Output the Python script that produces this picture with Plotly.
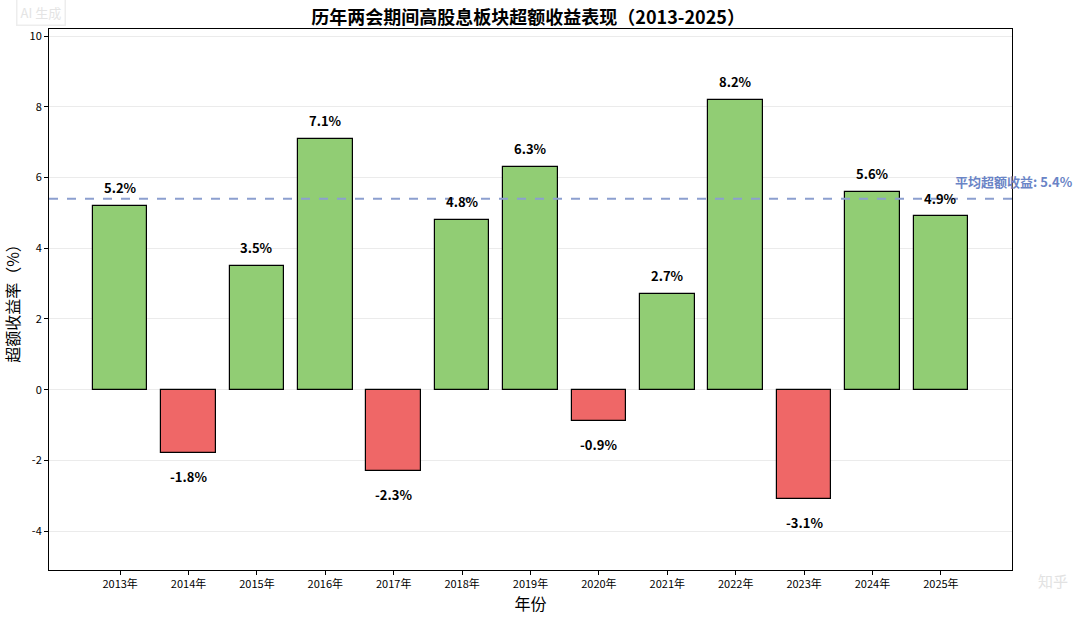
import plotly.graph_objects as go

years = ["2013年", "2014年", "2015年", "2016年", "2017年", "2018年", "2019年",
         "2020年", "2021年", "2022年", "2023年", "2024年", "2025年"]
excess = [5.2, -1.8, 3.5, 7.1, -2.3, 4.8, 6.3, -0.9, 2.7, 8.2, -3.1, 5.6, 4.9]
avg_value = 5.4
y_ticks = [-4, -2, 0, 2, 4, 6, 8, 10]
y_tick_text = ["-4", "-2", "0", "2", "4", "6", "8", "10"]

GREEN = "#91CD74"
RED = "#EF6767"
FONT = "Noto Sans CJK SC"

idx = list(range(len(years)))
colors = [GREEN if v >= 0 else RED for v in excess]

fig = go.Figure()
fig.add_trace(go.Bar(
    x=idx, y=excess, width=0.8,
    marker=dict(color=colors, line=dict(color="black", width=1.2)),
    hoverinfo="skip",
))

# average line
fig.add_shape(type="line", xref="paper", yref="y", x0=0, x1=1,
              y0=avg_value, y1=avg_value,
              line=dict(color="#8C9FCF", width=2, dash="dash"), layer="above")
fig.add_annotation(x=12.18, y=avg_value + 0.15, xref="x", yref="y",
                   text="<b>平均超额收益: %.1f%%</b>" % avg_value, showarrow=False,
                   xanchor="left", yanchor="bottom",
                   font=dict(family=FONT, size=13, color="#6A84C6"))

# value labels
for i, v in zip(idx, excess):
    label = "<b>%.1f%%</b>" % v
    if v >= 0:
        fig.add_annotation(x=i, y=v + 0.19, text=label, showarrow=False,
                           yanchor="bottom", xanchor="center",
                           font=dict(family=FONT, size=13, color="black"))
    else:
        fig.add_annotation(x=i, y=v - 0.33, text=label, showarrow=False,
                           yanchor="top", xanchor="center",
                           font=dict(family=FONT, size=13, color="black"))

# watermarks
fig.add_annotation(xref="paper", yref="paper", x=-0.034, y=1.005,
                   text="AI 生成", showarrow=False, xanchor="left", yanchor="bottom",
                   font=dict(family=FONT, size=13, color="#E4E4E4"),
                   bordercolor="#EDEDED", borderwidth=1.5, borderpad=3)
fig.add_annotation(xref="paper", yref="paper", x=1.025, y=-0.02,
                   text="知乎", showarrow=False, xanchor="left", yanchor="middle",
                   font=dict(family=FONT, size=15, color="#E2E2E2"))

fig.update_layout(
    width=1080, height=618,
    margin=dict(l=49, r=68, t=29, b=48, autoexpand=False),
    paper_bgcolor="white", plot_bgcolor="white",
    showlegend=False,
    bargap=0,
    title=dict(text="<b>历年两会期间高股息板块超额收益表现（2013-2025）</b>",
               x=0.489, xanchor="center", y=0.972, yanchor="middle",
               font=dict(family=FONT, size=18, color="black")),
    font=dict(family=FONT, color="black"),
    xaxis=dict(range=[-1.04, 13.04], tickmode="array", tickvals=idx, ticktext=years,
               showgrid=False, zeroline=False, automargin=False,
               showline=True, linecolor="black", linewidth=1, mirror=True,
               ticks="outside", ticklen=4, tickcolor="black",
               tickfont=dict(family=FONT, size=11, color="black"),
               title=dict(text="年份", font=dict(family=FONT, size=16, color="black"), standoff=0)),
    yaxis=dict(range=[-5.1, 10.2], tickmode="array", tickvals=y_ticks, ticktext=y_tick_text,
               showgrid=True, gridcolor="#EBEBEB", gridwidth=1, zeroline=False, automargin=False,
               showline=True, linecolor="black", linewidth=1, mirror=True,
               ticks="outside", ticklen=4, tickcolor="black",
               tickfont=dict(family=FONT, size=11, color="black"),
               title=dict(text="超额收益率（%）", font=dict(family=FONT, size=16, color="black"), standoff=6)),
)

fig.write_html("out.html", config={"displayModeBar": False},
               post_script="document.body.style.margin='0';document.body.style.overflow='hidden';")
